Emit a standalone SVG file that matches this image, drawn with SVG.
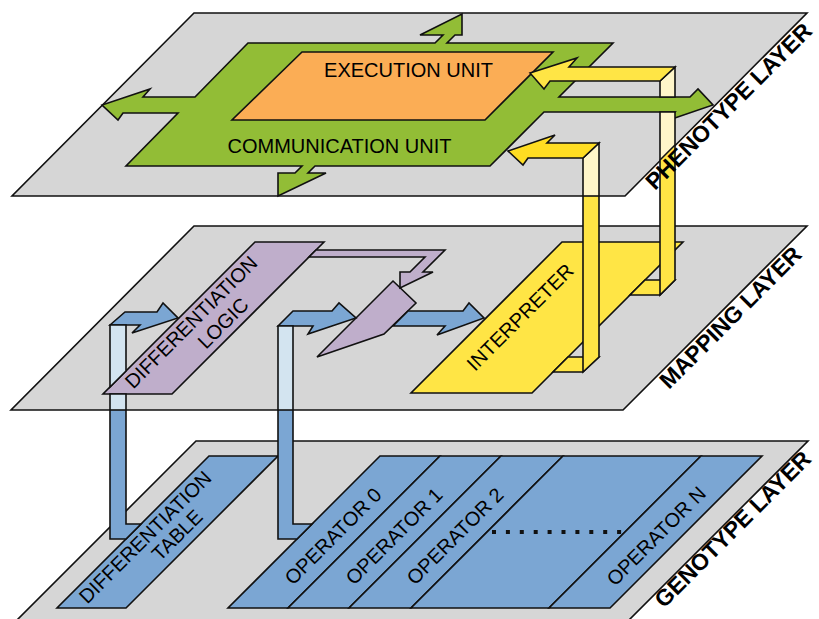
<svg xmlns="http://www.w3.org/2000/svg" width="819" height="619" viewBox="0 0 819 619">
  <defs>
    <style>
      .plate { fill: #d6d6d6; stroke: #111; stroke-width: 1.6; stroke-linejoin: miter; }
      .ol { stroke: #111; stroke-width: 1.6; stroke-linejoin: miter; }
      .edge { fill: none; stroke: #111; stroke-width: 1.6; }
      .green { fill: #92bd36; }
      .orange { fill: #fbad55; }
      .yellow { fill: #ffe545; }
      .gold { fill: #ffdd22; }
      .paleY { fill: #fff6c9; }
      .blue { fill: #7ba6d3; }
      .paleB { fill: #d3e4f0; }
      .purple { fill: #bfaecb; }
      .nofill { fill: none; }
      .t { font-family: "Liberation Sans", Arial, sans-serif; font-size: 20px; fill: #000; }
      .lbl { font-family: "Liberation Sans", Arial, sans-serif; font-size: 23px; font-weight: bold; fill: #000; }
    </style>
    <clipPath id="clip-pheno"><polygon points="194,13 807,13 625,196 12,196"/></clipPath>
    <clipPath id="clip-map"><polygon points="194,226 807,226 623,410 11,410"/></clipPath>
  </defs>

  <!-- layer plates -->
  <g id="phenotype-layer"><polygon class="plate" points="194,13 807,13 625,196 12,196"/></g>
  <g id="mapping-layer"><polygon class="plate" points="194,226 807,226 623,410 11,410"/></g>
  <g id="genotype-layer"><polygon class="plate" points="196,441 808,441 624,625 12,625"/></g>

  <!-- genotype layer nodes -->
  <g id="differentiation-table">
    <polygon class="blue ol" points="209,456 278,456 126,608 57,608"/>
    <text class="t" text-anchor="middle" transform="translate(150,542) rotate(-45)">DIFFERENTIATION</text>
    <text class="t" text-anchor="middle" transform="translate(182,540) rotate(-45)">TABLE</text>
  </g>
  <g id="operator-0">
    <polygon class="blue ol" points="380,456 440,456 288,608 228,608"/>
    <text class="t" text-anchor="middle" transform="translate(338,541) rotate(-45)">OPERATOR 0</text>
  </g>
  <g id="operator-1">
    <polygon class="blue ol" points="440,456 501,456 349,608 288,608"/>
    <text class="t" text-anchor="middle" transform="translate(399,541) rotate(-45)">OPERATOR 1</text>
  </g>
  <g id="operator-2">
    <polygon class="blue ol" points="501,456 563,456 411,608 349,608"/>
    <text class="t" text-anchor="middle" transform="translate(460,541) rotate(-45)">OPERATOR 2</text>
  </g>
  <g id="operator-ellipsis">
    <polygon class="blue ol" points="563,456 701,456 549,608 411,608"/>
    <line x1="492" y1="532" x2="622" y2="532" stroke="#111" stroke-width="4" stroke-dasharray="4 9.9"/>
  </g>
  <g id="operator-n">
    <polygon class="blue ol" points="701,456 762,456 610,608 549,608"/>
    <text class="t" text-anchor="middle" transform="translate(661,541) rotate(-45)">OPERATOR N</text>
  </g>

  <!-- mapping layer nodes -->
  <g id="differentiation-logic">
    <polygon class="purple ol" points="255,242 324,242 172,394 103,394"/>
    <text class="t" text-anchor="middle" transform="translate(196,327) rotate(-45)">DIFFERENTIATION</text>
    <text class="t" text-anchor="middle" transform="translate(228,328) rotate(-45)">LOGIC</text>
  </g>
  <g id="interpreter">
    <polygon class="yellow ol" points="562,242 683,242 532,393 411,393"/>
    <text class="t" text-anchor="middle" transform="translate(525,322) rotate(-45)">INTERPRETER</text>
  </g>
  <g id="switch">
    <polygon class="purple ol" points="393,281 416,303 384,334 317,357"/>
  </g>

  <!-- phenotype layer nodes -->
  <g id="communication-unit">
    <polygon class="green ol" points="248,43 435,43 443,35 420,35 462,14 462,35 455,35 447,43 613,43 559,97 690,97 698,89 713,105 666,121 675,112 544,112 490,166 315,166 308,173 326,173 278,196 278,173 295,173 302,166 126,166 178,113 123,113 118,120 102,105 150,89 143,97 195,97"/>
    <text class="t" text-anchor="middle" x="339.5" y="153">COMMUNICATION UNIT</text>
  </g>
  <g id="execution-unit">
    <polygon class="orange ol" points="302,52 553,52 485,120 232,120"/>
    <text class="t" text-anchor="middle" x="408.5" y="77">EXECUTION UNIT</text>
  </g>

  <!-- connectors -->
  <g id="connectors">
    <!-- differentiation table to differentiation logic -->
    <g id="table-to-logic">
      <polygon class="blue ol" points="110,325 125,312 157,312 163,303 178,318 132,333 140,325"/>
      <polygon class="paleB ol" points="110,325 126,325 126,371 110,387"/>
      <polygon class="blue" points="110,394 126,394 126,524 141,524 126,539 110,539"/>
      <polygon class="paleB" clip-path="url(#clip-map)" points="110,394 126,394 126,524 141,524 126,539 110,539"/>
      <polygon class="nofill ol" points="110,394 126,394 126,524 141,524 126,539 110,539"/>
      <line class="edge" x1="110" y1="410" x2="126" y2="410"/>
    </g>
    <!-- operator block to switch -->
    <g id="operators-to-switch">
      <polygon class="blue ol" points="278,326 293,311 332,311 339,303 356,318 308,334 313,326"/>
      <polygon class="blue" points="278,326 293,326 293,524 312,524 297,539 278,539"/>
      <polygon class="paleB" clip-path="url(#clip-map)" points="278,326 293,326 293,524 312,524 297,539 278,539"/>
      <polygon class="nofill ol" points="278,326 293,326 293,524 312,524 297,539 278,539"/>
      <line class="edge" x1="278" y1="410" x2="293" y2="410"/>
    </g>
    <!-- switch to interpreter -->
    <polygon id="switch-to-interpreter" class="blue ol" points="408,311 463,311 469,303 484,318 437,335 445,326 393,326"/>
    <!-- differentiation logic to switch -->
    <polygon id="logic-to-switch" class="purple ol" points="316,250 445,250 423,272 433,272 400,288 400,272 410,272 425,257 309,257"/>
    <!-- interpreter to communication unit -->
    <g id="interpreter-to-communication">
      <polygon class="yellow ol" points="568,357 599,357 583,372 553,372"/>
      <polygon class="yellow" points="583,158 599,143 599,357 583,372"/>
      <polygon class="paleY" clip-path="url(#clip-pheno)" points="583,158 599,143 599,357 583,372"/>
      <polygon class="nofill ol" points="583,158 599,143 599,357 583,372"/>
      <line class="edge" x1="583" y1="196" x2="599" y2="196"/>
      <polygon class="gold ol" points="508,151 555,135 547,143 599,143 583,158 528,158 523,165"/>
    </g>
    <!-- interpreter to execution unit -->
    <g id="interpreter-to-execution">
      <polygon class="yellow ol" points="645,280 675,280 660,295 630,295"/>
      <polygon class="yellow" points="660,112 675,112 675,280 660,295"/>
      <polygon class="paleY" clip-path="url(#clip-pheno)" points="660,112 675,112 675,280 660,295"/>
      <polygon class="nofill ol" points="660,112 675,112 675,280 660,295"/>
      <polygon class="paleY ol" points="660,81 675,67 675,97 660,97"/>
      <line class="edge" x1="675" y1="145" x2="660" y2="160"/>
      <polygon class="yellow ol" points="530,73 577,58 569,67 675,67 660,81 550,81 544,89"/>
    </g>
  </g>

  <!-- layer names -->
  <g id="layer-labels">
    <text class="lbl" transform="translate(655,191) rotate(-45)">PHENOTYPE LAYER</text>
    <text class="lbl" transform="translate(669,390) rotate(-45)">MAPPING LAYER</text>
    <text class="lbl" transform="translate(664,609) rotate(-45)">GENOTYPE LAYER</text>
  </g>
</svg>
